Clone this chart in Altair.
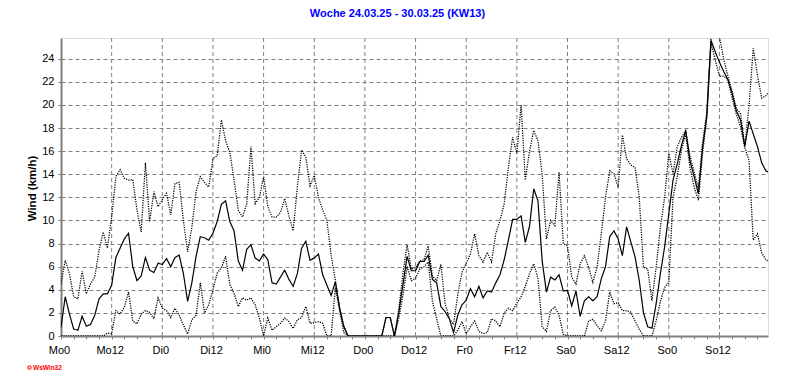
import json
import altair as alt
import pandas as pd

title_text = "Woche 24.03.25 - 30.03.25 (KW13)"
y_title = "Wind  (km/h)"
logo_text = "WsWin32"
tick_labels = ["Mo0", "Mo12", "Di0", "Di12", "Mi0", "Mi12", "Do0",
               "Do12", "Fr0", "Fr12", "Sa0", "Sa12", "So0", "So12"]
grid_hours = [12, 24, 36, 48, 60, 72, 84, 96, 108, 120, 132, 144, 156]
x_ticks = [0, 3, 6, 9, 12, 15, 18, 21, 24, 27, 30, 33, 36, 39, 42, 45, 48, 51, 54, 57,
           60, 63, 66, 69, 72, 75, 78, 81, 84, 87, 90, 93, 96, 99, 102, 105, 108, 111,
           114, 117, 120, 123, 126, 129, 132, 135, 138, 141, 144, 147, 150, 153, 156,
           159, 162, 165]
y_ticks = [0, 2, 4, 6, 8, 10, 12, 14, 16, 18, 20, 22, 24]

# hours since Monday 0:00 (hourly samples)
hours = list(range(168)) + [167.5]

# mean wind (km/h)
wind_mean = [
    0.75, 3.4, 1.9, 0.6, 0.5, 1.7, 0.85, 1.0, 1.8, 3.2, 3.65, 3.65,
    4.4, 6.8, 7.6, 8.4, 8.9, 6.0, 4.8, 5.2, 6.8, 5.7, 5.5, 6.3,
    6.2, 6.7, 6.0, 6.8, 7.0, 5.4, 3.0, 4.6, 6.9, 8.6, 8.5, 8.3,
    8.9, 9.9, 11.4, 11.7, 9.9, 9.1, 6.5, 5.7, 7.5, 7.9, 6.75, 6.5,
    7.1, 6.6, 4.6, 4.5, 5.1, 5.7, 4.9, 4.3, 5.4, 7.6, 8.2, 6.55,
    6.75, 7.1, 5.3, 4.4, 3.5, 4.7, 2.4, 0.8, 0, 0, 0, 0,
    0, 0, 0, 0, 0, 1.6, 1.6, 0, 2.0, 4.4, 6.9, 5.65,
    5.65, 6.45, 6.45, 7.0, 4.9, 4.6, 2.55, 2.1, 1.5, 0.3, 1.8, 2.7,
    3.1, 4.1, 3.4, 4.3, 3.3, 3.9, 3.8, 4.6, 5.3, 6.6, 8.3, 10.1,
    10.1, 10.4, 8.1, 9.5, 12.75, 11.7, 6.5, 3.8, 5.1, 4.85, 5.3, 3.9,
    3.95, 2.6, 3.9, 1.7, 3.05, 3.4, 3.05, 3.4, 4.95, 6.0, 8.6, 9.1,
    8.4, 6.95, 9.45, 8.15, 6.85, 4.8, 2.0, 0.8, 0.67, 2.8, 5.4, 7.7,
    10.6, 13.5, 14.9, 16.5, 17.8, 15.2, 13.8, 12.3, 16.3, 19.0, 25.6, 24.6,
    23.7, 22.9, 22.2, 21.0, 19.5, 18.7, 16.4, 18.6, 17.5, 16.4, 15.0, 14.3,
    14.2,
]

# gusts / maximum (km/h)
wind_max = [
    4.5, 6.55, 5.4, 3.4, 3.2, 5.6, 3.65, 4.5, 5.1, 7.4, 9.0, 7.6,
    10.3, 13.8, 14.4, 13.65, 13.5, 13.55, 10.9, 9.0, 15.0, 9.9, 12.5, 11.2,
    11.8, 12.35, 10.5, 13.2, 13.3, 10.0, 7.3, 9.4, 12.5, 13.8, 13.3, 12.9,
    15.35, 15.6, 18.7, 16.9, 15.9, 13.5, 10.9, 10.3, 11.45, 16.4, 11.45, 12.0,
    13.8, 11.2, 10.3, 10.3, 10.7, 11.9, 10.4, 9.1, 12.9, 16.1, 15.5, 13.0,
    13.9, 12.0, 10.9, 10.0, 7.0, 4.8, 2.5, 0.9, 0, 0, 0, 0,
    0, 0, 0, 0, 0, 1.6, 1.6, 0, 2.2, 5.4, 7.9, 5.8,
    5.9, 6.5, 6.6, 7.8, 5.2, 4.8, 6.2, 2.8, 1.5, 1.0, 3.6, 5.5,
    6.3, 7.1, 8.85, 6.95, 6.4, 7.25, 6.4, 8.85, 10.0, 11.45, 14.6, 17.2,
    15.8, 20.0, 13.5, 16.0, 17.8, 16.9, 14.0, 8.4, 10.0, 9.55, 14.2, 8.0,
    7.8, 5.1, 4.5, 6.25, 6.95, 5.95, 4.65, 5.95, 8.85, 12.0, 14.3, 14.05,
    12.9, 17.4, 15.35, 14.8, 14.6, 12.0, 5.95, 5.8, 3.06, 5.95, 9.4, 12.0,
    15.8, 14.05, 16.4, 17.2, 17.8, 15.6, 14.2, 12.8, 16.8, 19.4, 25.9, 25.9,
    25.9, 24.0, 22.5, 21.2, 19.7, 19.25, 16.5, 19.9, 24.9, 22.6, 20.6, 20.8,
    21.0,
]

# minimum (km/h)
wind_min = [
    0, 0, 0, 0, 0, 0, 0, 0, 0, 0, 0, 0.25,
    0.2, 2.2, 1.9, 2.5, 3.8, 1.3, 1.05, 1.9, 2.2, 2.05, 1.5, 3.3,
    2.4, 2.2, 1.6, 2.4, 1.8, 0.95, 0.17, 1.4, 1.8, 4.6, 2.0, 2.7,
    4.0, 5.45, 5.9, 6.9, 4.45, 3.7, 2.55, 3.3, 3.1, 3.3, 2.7, 1.55,
    0, 1.55, 0.5, 0.8, 1.1, 1.55, 1.25, 0.65, 1.4, 1.6, 2.55, 1.1,
    1.15, 1.25, 1.1, 0, 0, 4.2, 2.2, 0.3, 0, 0, 0, 0,
    0, 0, 0, 0, 0, 0, 0, 0, 1.5, 3.5, 6.0, 4.8,
    5.0, 5.8, 6.0, 6.4, 3.0, 1.5, 0, 0, 0, 0, 0.5, 1.25,
    0.2, 0.8, 1.3, 0.4, 0.2, 0.3, 1.5, 1.3, 0.8, 2.0, 2.4, 2.2,
    2.85, 3.4, 4.3, 5.4, 6.25, 5.0, 0.8, 0.4, 2.2, 2.5, 1.8, 0.15,
    0, 0, 0, 0, 0, 1.3, 1.45, 0.9, 0.45, 1.3, 3.8, 2.8,
    2.9, 2.2, 2.2, 2.05, 1.3, 0.6, 0, 0, 0, 1.3, 3.0, 4.2,
    4.65, 12.0, 13.8, 16.1, 17.5, 14.6, 12.9, 11.75, 15.8, 19.0, 25.4, 23.9,
    22.5, 22.5, 22.2, 20.6, 19.2, 18.1, 16.3, 15.2, 8.3, 8.85, 7.2, 6.6,
    6.5,
]

rows = []
for name, vals in [("mean", wind_mean), ("max", wind_max), ("min", wind_min)]:
    for h, v in zip(hours, vals):
        rows.append({"h": h, "v": v, "series": name})
df = pd.DataFrame(rows)

FONT = "Liberation Sans"
GREY = "#808080"

x_scale = alt.Scale(domain=[0, 167.5], nice=False, zero=False)
y_scale = alt.Scale(domain=[0, 25.8], nice=False)

label_expr = ("datum.value % 12 == 0 ? " + json.dumps(tick_labels)
              + "[datum.value / 12] : ''")

x_axis = alt.Axis(values=x_ticks, grid=False, labelExpr=label_expr, labelFlush=False,
                  labelOverlap=False, domainColor=GREY, domainWidth=2, tickColor=GREY,
                  tickSize=3, labelFont=FONT, labelFontSize=11, labelColor="black",
                  labelPadding=5, labelOffset=-2, title=None)
y_axis = alt.Axis(values=y_ticks, grid=True, gridDash=[4, 3], gridColor=GREY, gridOpacity=1,
                  domainColor=GREY, domainWidth=2, tickColor=GREY, tickSize=3,
                  labelFont=FONT, labelFontSize=11, labelColor="black", labelPadding=4,
                  title=y_title, titleFont=FONT, titleFontSize=11.5, titleFontWeight="bold",
                  titleColor="black", titleAngle=270, titleAlign="center",
                  titleBaseline="alphabetic", titleX=-26, titleY=150)

grid = alt.Chart(pd.DataFrame({"h": grid_hours})).mark_rule(
    color=GREY, strokeDash=[4, 3], strokeWidth=1
).encode(x=alt.X("h:Q", scale=x_scale, axis=x_axis))

lines = alt.Chart(df).mark_line(color="black", clip=True).encode(
    x=alt.X("h:Q", scale=x_scale, axis=x_axis),
    y=alt.Y("v:Q", scale=y_scale, axis=y_axis),
    detail="series:N",
    strokeDash=alt.StrokeDash("series:N",
                              scale=alt.Scale(domain=["mean", "max", "min"],
                                              range=[[1, 0], [1.2, 1.2], [1.2, 1.2]]),
                              legend=None),
    strokeWidth=alt.StrokeWidth("series:N",
                                scale=alt.Scale(domain=["mean", "max", "min"],
                                                range=[1.2, 1.3, 1.3]),
                                legend=None),
)

logo_df = pd.DataFrame({"t": [logo_text]})
logo_text_mark = alt.Chart(logo_df).mark_text(
    color="#ff0000", font=FONT, fontSize=6.5, fontWeight="bold", align="left",
    baseline="middle"
).encode(x=alt.value(-28), y=alt.value(330), text="t:N")
logo_dot = alt.Chart(logo_df).mark_point(
    shape="circle", filled=False, color="#ff0000", size=10, strokeWidth=1.5
).encode(x=alt.value(-31.5), y=alt.value(329.5))

chart = alt.layer(grid, lines, logo_text_mark, logo_dot).properties(
    width=707, height=298,
    title=alt.TitleParams(title_text, color="#0000ff", font=FONT, fontSize=11,
                          fontWeight="bold", anchor="middle", dx=-17, offset=10,
                          baseline="alphabetic"),
    autosize="none",
    padding={"left": 53, "top": 30, "right": 16, "bottom": 43},
).configure_view(stroke="black", strokeWidth=1).configure(background="white")

chart.save("out.html", embed_options={"renderer": "svg", "actions": False})
